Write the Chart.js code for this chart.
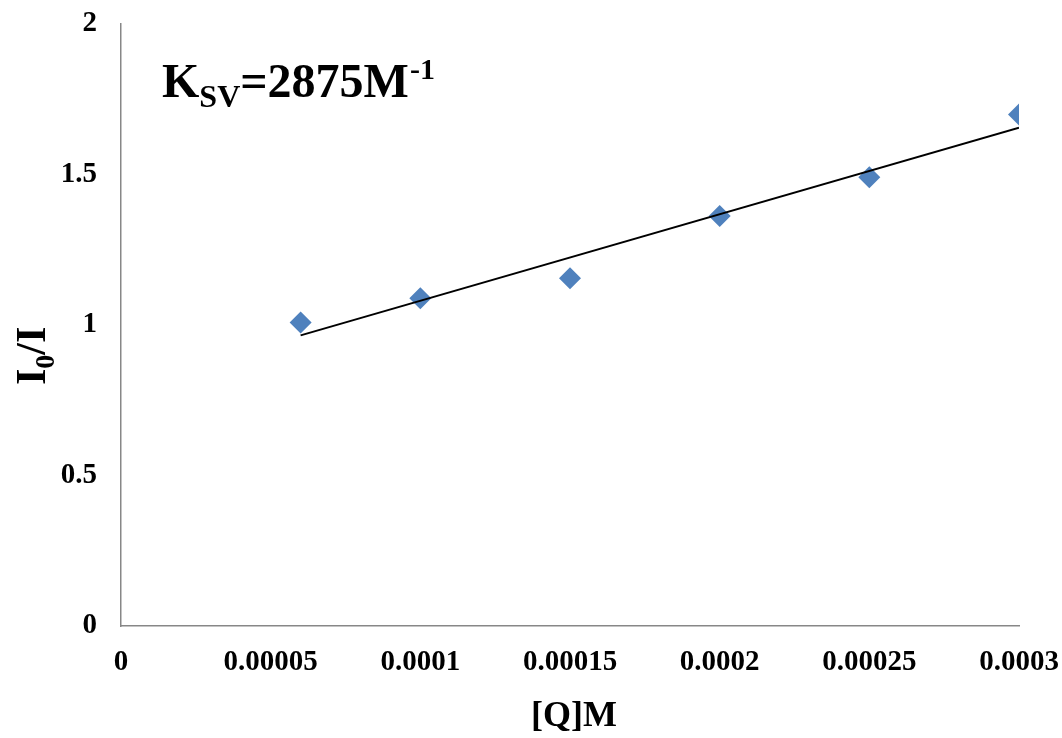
<!DOCTYPE html>
<html>
<head>
<meta charset="utf-8">
<script src="https://cdn.jsdelivr.net/npm/chart.js@4.4.0/dist/chart.umd.min.js"></script>
<style>
html, body { margin: 0; padding: 0; background: #fff; }
</style>
</head>
<body>
<canvas id="chart" width="1062" height="738"></canvas>
<script>
// [Q] in M, I0/I ratio
const concentrations = [0.00006, 0.0001, 0.00015, 0.0002, 0.00025, 0.0003];
const ratios = [1.008, 1.089, 1.155, 1.362, 1.491, 1.699];

const xTicks = [0, 0.00005, 0.0001, 0.00015, 0.0002, 0.00025, 0.0003];
const xTickLabels = ['0', '0.00005', '0.0001', '0.00015', '0.0002', '0.00025', '0.0003'];
const yTicks = [0, 0.5, 1, 1.5, 2];
const yTickLabels = ['0', '0.5', '1', '1.5', '2'];

const serif = "'Liberation Serif', 'Times New Roman', serif";

// least squares trendline over the measured points
function linearFit(xs, ys) {
    let n = xs.length, sx = 0, sy = 0, sxx = 0, sxy = 0;
    for (let i = 0; i < n; i++) {
        sx += xs[i]; sy += ys[i];
        sxx += xs[i] * xs[i]; sxy += xs[i] * ys[i];
    }
    let slope = (n * sxy - sx * sy) / (n * sxx - sx * sx);
    let intercept = (sy - slope * sx) / n;
    return [slope, intercept];
}

const [slope, intercept] = linearFit(concentrations, ratios);
const xFirst = concentrations[0];
const xLast = concentrations[concentrations.length - 1];
const trend = [
    {x: xFirst, y: slope * xFirst + intercept},
    {x: xLast, y: slope * xLast + intercept}
];

function drawPart(c, text, x, y, size) {
    c.font = 'bold ' + size + 'px ' + serif;
    c.fillText(text, x, y);
    return x + c.measureText(text).width;
}

const textPlugin = {
    id: 'textPlugin',
    afterDraw(chart) {
        const c = chart.ctx;
        c.save();
        c.fillStyle = '#000';
        c.textAlign = 'left';
        c.textBaseline = 'alphabetic';

        // K_SV=2875M^-1
        let x = 162, base = 97;
        x = drawPart(c, 'K', x, base, 48);
        x = drawPart(c, 'SV', x, base + 10, 32);
        x = drawPart(c, '=2875M', x, base, 48);
        drawPart(c, '-1', x + 1, base - 18, 30);

        // x axis title
        drawPart(c, '[Q]M', 531, 726, 36);

        // y axis title, rotated
        c.translate(45, 385);
        c.rotate(-Math.PI / 2);
        let u = 0;
        u = drawPart(c, 'I', u, 0, 42);
        u = drawPart(c, '0', u, 9, 28);
        drawPart(c, '/I', u, 0, 42);
        c.restore();
    }
};

const tickFont = {family: serif, size: 29, weight: 'bold'};

new Chart(document.getElementById('chart'), {
    type: 'scatter',
    data: {
        datasets: [{
            label: 'Linear fit',
            data: trend,
            showLine: true,
            borderColor: '#000',
            borderWidth: 2,
            pointRadius: 0,
            fill: false,
            order: 0
        }, {
            label: 'I0/I',
            data: concentrations.map((v, i) => ({x: v, y: ratios[i]})),
            pointStyle: 'rectRot',
            pointRadius: 11,
            pointBackgroundColor: '#4F81BD',
            pointBorderColor: '#4F81BD',
            pointBorderWidth: 0,
            showLine: false,
            order: 1
        }]
    },
    options: {
        responsive: false,
        animation: false,
        layout: {padding: {top: 24, right: 43, left: 0, bottom: 0}},
        plugins: {
            legend: {display: false},
            tooltip: {enabled: false}
        },
        scales: {
            x: {
                type: 'linear',
                min: 0,
                max: 0.0003,
                afterBuildTicks: s => { s.ticks = xTicks.map(v => ({value: v})); },
                afterFit: s => {
                    s.height = 112;
                    s.paddingLeft = 0;
                    s.paddingRight = 0;
                },
                grid: {display: false, drawTicks: false},
                border: {display: true, color: '#878787', width: 1.5},
                ticks: {
                    font: tickFont,
                    color: '#000',
                    padding: 19,
                    maxRotation: 0,
                    autoSkip: false,
                    callback: (v, i) => xTickLabels[i]
                }
            },
            y: {
                type: 'linear',
                min: 0,
                max: 2,
                afterBuildTicks: s => { s.ticks = yTicks.map(v => ({value: v})); },
                afterFit: s => {
                    s.width = 121;
                    s.paddingTop = 0;
                    s.paddingBottom = 0;
                },
                grid: {display: false, drawTicks: false},
                border: {display: true, color: '#878787', width: 1.5},
                ticks: {
                    font: tickFont,
                    color: '#000',
                    padding: 24,
                    autoSkip: false,
                    callback: (v, i) => yTickLabels[i]
                }
            }
        }
    },
    plugins: [textPlugin]
});
</script>
</body>
</html>
